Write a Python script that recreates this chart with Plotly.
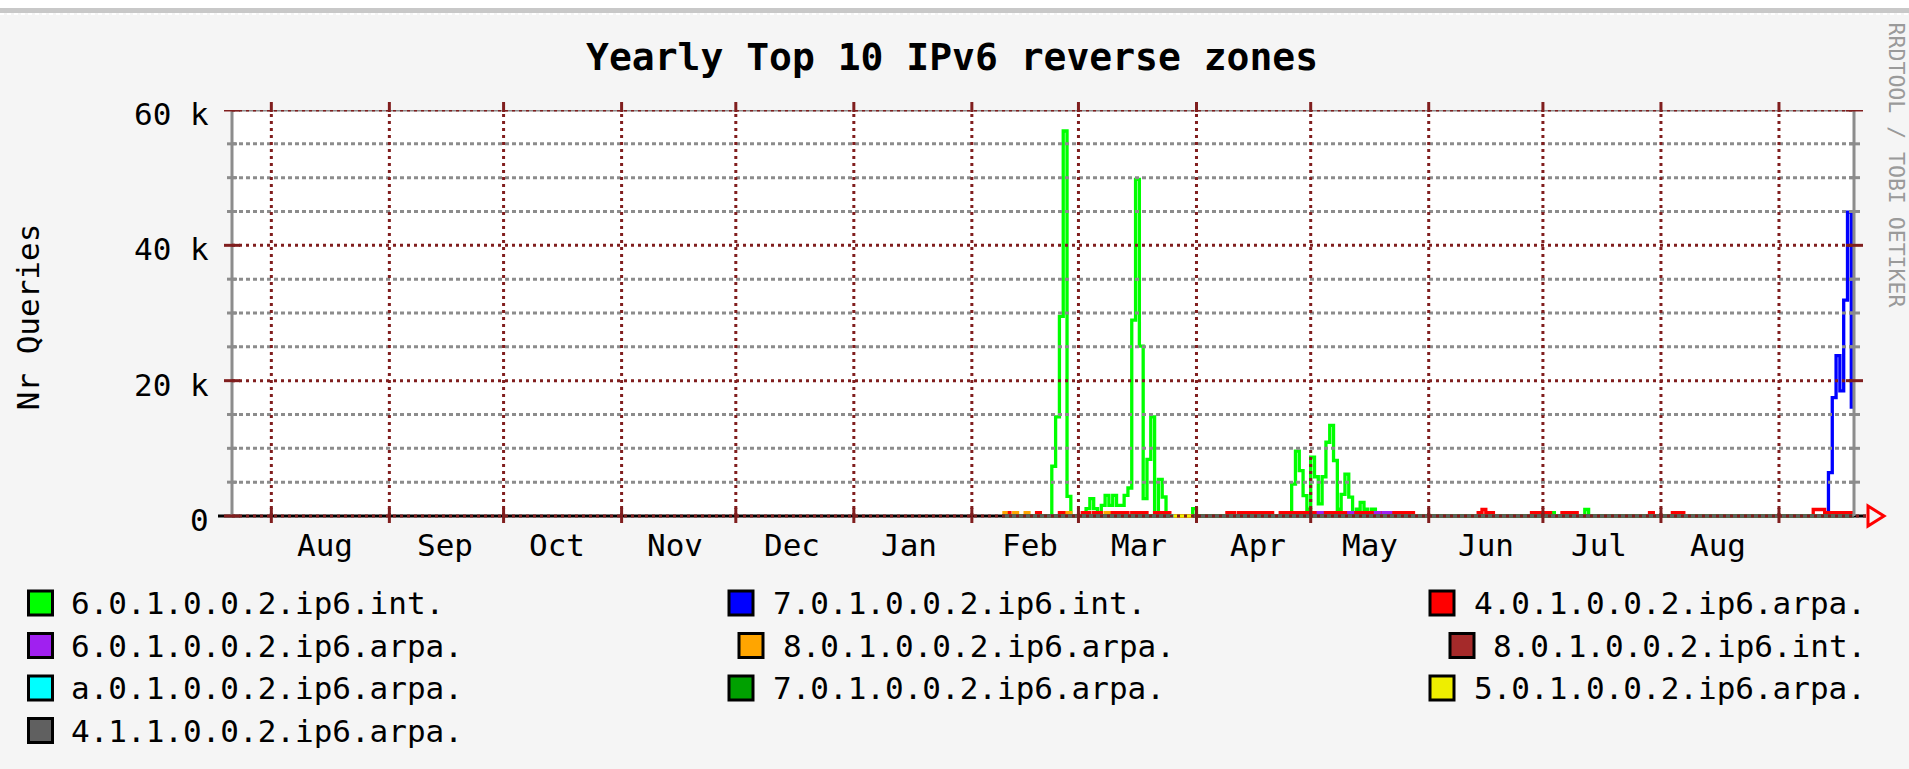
import plotly.graph_objects as go

# ---------------------------------------------------------------- data
X_START = "2004-07-21 16:00"
X_END = "2005-09-20 17:00"

MONTH_STARTS = ["2004-08-01", "2004-09-01", "2004-10-01", "2004-11-01", "2004-12-01",
                "2005-01-01", "2005-02-01", "2005-03-01", "2005-04-01", "2005-05-01",
                "2005-06-01", "2005-07-01", "2005-08-01", "2005-09-01"]
MONTH_LABEL_DATES = ["2004-08-15 00:00", "2004-09-15 17:00", "2004-10-15 00:00",
                     "2004-11-15 00:00", "2004-12-15 17:00", "2005-01-15 12:00",
                     "2005-02-16 05:00", "2005-03-16 19:00", "2005-04-17 05:00",
                     "2005-05-16 17:00", "2005-06-16 00:00", "2005-07-15 17:00",
                     "2005-08-15 22:00"]
MONTH_LABELS = ["Aug", "Sep", "Oct", "Nov", "Dec", "Jan", "Feb", "Mar", "Apr",
                "May", "Jun", "Jul", "Aug"]

Y_MAJOR = [0, 20000, 40000, 60000]
Y_MAJOR_TEXT = ["0", "20 k", "40 k", "60 k"]
Y_MINOR = [5000, 10000, 15000, 25000, 30000, 35000, 45000, 50000, 55000]
Y_MAX = 60000

TITLE = "Yearly Top 10 IPv6 reverse zones"
Y_TITLE = "Nr Queries"
WATERMARK = "RRDTOOL / TOBI OETIKER"

ZONE_NAMES = ["6.0.1.0.0.2.ip6.int.", "7.0.1.0.0.2.ip6.int.", "4.0.1.0.0.2.ip6.arpa.",
              "6.0.1.0.0.2.ip6.arpa.", "8.0.1.0.0.2.ip6.arpa.", "8.0.1.0.0.2.ip6.int.",
              "a.0.1.0.0.2.ip6.arpa.", "7.0.1.0.0.2.ip6.arpa.", "5.0.1.0.0.2.ip6.arpa.",
              "4.1.1.0.0.2.ip6.arpa."]
ZONE_COLORS = ["#00FF00", "#0000FF", "#FF0000", "#A020F0", "#FFA500", "#A52A2A",
               "#00FFFF", "#00A000", "#EEEE00", "#606060"]

GREEN_DATES = ["2005-02-09",
               "2005-02-22", "2005-02-23", "2005-02-24", "2005-02-25", "2005-02-26", "2005-02-27",
               "2005-03-03", "2005-03-04", "2005-03-05", "2005-03-06", "2005-03-07", "2005-03-08",
               "2005-03-09", "2005-03-10", "2005-03-11", "2005-03-13", "2005-03-14", "2005-03-15",
               "2005-03-16", "2005-03-17", "2005-03-18", "2005-03-19", "2005-03-20", "2005-03-21",
               "2005-03-22", "2005-03-23", "2005-03-24",
               "2005-03-31", "2005-04-01",
               "2005-04-26", "2005-04-27", "2005-04-28", "2005-04-29", "2005-04-30", "2005-05-01",
               "2005-05-02", "2005-05-03", "2005-05-04", "2005-05-05", "2005-05-06", "2005-05-07",
               "2005-05-08", "2005-05-09", "2005-05-10", "2005-05-11", "2005-05-12", "2005-05-13",
               "2005-05-14", "2005-05-15", "2005-05-16", "2005-05-17", "2005-05-18",
               "2005-07-03", "2005-07-04", "2005-07-12", "2005-07-13",
               X_END]
GREEN_VALUES = [0,
                7350, 14650, 29500, 56900, 2900, 0,
                1085, 2560, 1085, 0, 1580, 3060,
                1580, 3060, 1580, 3060, 4140, 28940,
                49750, 25100, 2560, 8380, 14640, 0,
                5420, 2810, 0,
                1085, 0,
                4700, 9600, 6700, 3000, 1000, 8700,
                5800, 1800, 5800, 10900, 13400, 8200,
                1000, 3200, 6200, 2800, 0, 1000,
                2000, 1000, 0, 1000, 0,
                480, 0, 960, 0,
                0]

BLUE_DATES = ["2005-02-09", "2005-09-14", "2005-09-15", "2005-09-16", "2005-09-17",
              "2005-09-18", "2005-09-19", "2005-09-20", X_END]
BLUE_VALUES = [0, 6400, 17500, 23700, 18500, 31900, 44900, 16100, 16100]

RED_DATES = ["2005-02-09", "2005-02-10", "2005-02-11", "2005-02-18", "2005-02-19",
             "2005-02-24", "2005-02-26", "2005-03-02", "2005-03-04", "2005-03-05",
             "2005-03-07", "2005-03-09", "2005-03-14", "2005-03-15", "2005-03-19",
             "2005-03-21", "2005-03-25", "2005-04-09", "2005-04-11", "2005-04-12",
             "2005-04-21", "2005-04-23", "2005-05-28", "2005-06-14", "2005-06-15",
             "2005-06-16", "2005-06-18", "2005-06-28", "2005-07-03", "2005-07-06",
             "2005-07-10", "2005-07-29", "2005-07-30", "2005-08-04", "2005-08-07",
             "2005-09-10", "2005-09-13", X_END]
RED_VALUES = [0, 480, 0, 480, 0,
              480, 0, 480, 0, 480,
              0, 480, 0, 480, 0,
              480, 0, 480, 0, 480,
              0, 480, 0, 480, 960,
              480, 0, 480, 0, 480,
              0, 480, 0, 480, 0,
              960, 480, 480]

PURPLE_DATES = ["2005-02-09", "2005-05-03", "2005-05-04", "2005-05-11", "2005-05-12",
                "2005-05-18", "2005-05-19", "2005-05-20", "2005-05-22", X_END]
PURPLE_VALUES = [0, 480, 0, 480, 0, 480, 0, 480, 0, 0]

ORANGE_DATES = ["2005-02-09", "2005-02-10", "2005-02-12", "2005-02-13", "2005-02-15",
                "2005-02-16", "2005-02-26", "2005-02-27", "2005-03-08", "2005-03-09", X_END]
ORANGE_VALUES = [480, 0, 480, 0, 480, 0, 480, 0, 480, 0, 0]

BROWN_DATES = ["2005-02-09", X_END]
BROWN_VALUES = [0, 0]

CYAN_DATES = ["2005-03-25", "2005-03-26"]
CYAN_VALUES = [0, 0]

DARKGREEN_DATES = ["2005-02-09", "2005-03-25", "2005-03-25", "2005-03-31", X_END]
DARKGREEN_VALUES = [0, 0, None, 0, 0]

YELLOW_DATES = ["2005-03-26", "2005-03-31"]
YELLOW_VALUES = [0, 0]

GRAY_DATES = ["2005-02-09", "2005-03-25", "2005-03-25", "2005-03-31", X_END]
GRAY_VALUES = [0, 0, None, 0, 0]

SERIES = [(GREEN_DATES, GREEN_VALUES), (BLUE_DATES, BLUE_VALUES), (RED_DATES, RED_VALUES),
          (PURPLE_DATES, PURPLE_VALUES), (ORANGE_DATES, ORANGE_VALUES),
          (BROWN_DATES, BROWN_VALUES), (CYAN_DATES, CYAN_VALUES),
          (DARKGREEN_DATES, DARKGREEN_VALUES), (YELLOW_DATES, YELLOW_VALUES),
          (GRAY_DATES, GRAY_VALUES)]

# ---------------------------------------------------------------- geometry / style
W, H = 1909, 769
PL, PR, PT, PB = 232, 1854, 110, 519          # plot rectangle in page pixels
ZERO_PX = 516                                  # page row of the value 0
Y_LOW = -(PB - ZERO_PX) * Y_MAX / (ZERO_PX - PT)

FONT = "DejaVu Sans Mono"
BG = "#F5F5F5"
GRID_GRAY = "#8C8C8C"
GRID_RED = "#801E1E"
AXIS_GRAY = "#8C8C8C"


def px_x(x):
    return (x - PL) / (PR - PL)


def px_y(y):
    return (PB - y) / (PB - PT)


fig = go.Figure()

for (dates, values), color in zip(SERIES, ZONE_COLORS):
    fig.add_trace(go.Scatter(x=dates, y=values, mode="lines",
                             line=dict(color=color, width=3.3, shape="hv"),
                             connectgaps=False, hoverinfo="skip", showlegend=False))

shapes = []


def add_line(x0, y0, x1, y1, color, width, dash="solid", xref="paper", yref="paper",
             layer="above"):
    shapes.append(dict(type="line", x0=x0, y0=y0, x1=x1, y1=y1, xref=xref, yref=yref,
                       line=dict(color=color, width=width, dash=dash), layer=layer))


# white canvas of the graph and the black x axis below the data
shapes.append(dict(type="rect", xref="paper", yref="y", x0=0, x1=1, y0=0, y1=Y_MAX,
                   fillcolor="white", line=dict(width=0), layer="below"))
add_line(px_x(218), 0, px_x(1866), 0, "black", 3, yref="y", layer="below")

# top band of the page
shapes.append(dict(type="rect", xref="paper", yref="paper", x0=px_x(0), x1=px_x(W),
                   y0=px_y(0), y1=px_y(8), fillcolor="white", line=dict(width=0),
                   layer="above"))
shapes.append(dict(type="rect", xref="paper", yref="paper", x0=px_x(0), x1=px_x(W),
                   y0=px_y(8), y1=px_y(13), fillcolor="#C8C8C8", line=dict(width=0),
                   layer="above"))
add_line(px_x(0), px_y(14), px_x(W), px_y(14), "white", 2, dash="4px,3px")

# axes (gray)
add_line(0, 0, 0, Y_MAX, AXIS_GRAY, 3, yref="y")
add_line(1, 0, 1, Y_MAX, AXIS_GRAY, 3, yref="y")

# minor horizontal grid
for v in Y_MINOR:
    add_line(0, v, 1, v, GRID_GRAY, 3, dash="4px,3px", yref="y")
    add_line(px_x(227), v, px_x(237), v, GRID_GRAY, 3, yref="y")
    add_line(px_x(1849), v, px_x(1860), v, GRID_GRAY, 3, yref="y")

# top line also carries gray
add_line(0, Y_MAX, 1, Y_MAX, GRID_GRAY, 3, yref="y")

# vertical month grid
for d in MONTH_STARTS:
    add_line(d, 0, d, Y_MAX, GRID_RED, 3, dash="3px,4px", xref="x", yref="y")
    add_line(d, px_y(102), d, px_y(112), GRID_RED, 3, xref="x")
    add_line(d, px_y(508), d, px_y(523), GRID_RED, 3, xref="x")

# major horizontal grid
for v in Y_MAJOR:
    x_end = px_x(1866) if v == 0 else 1
    add_line(0, v, x_end, v, GRID_RED, 3, dash="3px,4px", yref="y")
    add_line(px_x(224), v, px_x(240), v, GRID_RED, 3, yref="y")
    if v != 0:
        add_line(px_x(1846), v, px_x(1863), v, GRID_RED, 3, yref="y")

# arrow at the end of the x axis
shapes.append(dict(type="path", xref="paper", yref="paper",
                   path="M {a},{b} L {a},{c} L {d},{e} Z".format(
                       a=px_x(1868), b=px_y(506), c=px_y(526), d=px_x(1884), e=px_y(516)),
                   line=dict(color="#FF0000", width=3), fillcolor="rgba(0,0,0,0)",
                   layer="above"))

# legend swatches
LEG_ROWS = [603, 645.5, 688, 730.5]
LEG_POS = [  # (swatch centre x, text x) per column, normal and shifted rows
    [(40.5, 70), (741, 772), (1442, 1473)],
    [(40.5, 70), (751, 782), (1462, 1492)],
    [(40.5, 70), (741, 772), (1442, 1473)],
    [(40.5, 70)],
]
annotations = []
k = 0
for r, row in enumerate(LEG_POS):
    for (cx, tx) in row:
        cy = LEG_ROWS[r]
        shapes.append(dict(type="rect", xref="paper", yref="paper",
                           x0=px_x(cx - 12), x1=px_x(cx + 12),
                           y0=px_y(cy - 12), y1=px_y(cy + 12),
                           fillcolor=ZONE_COLORS[k], line=dict(color="black", width=3),
                           layer="above"))
        annotations.append(dict(x=px_x(tx), y=px_y(cy), xref="paper", yref="paper",
                                text=ZONE_NAMES[k], showarrow=False, xanchor="left",
                                yanchor="middle", borderpad=0,
                                font=dict(family=FONT, size=31, color="black")))
        k += 1

# title, axis title, watermark
annotations.append(dict(x=px_x(952), y=px_y(57), xref="paper", yref="paper", text=TITLE,
                        showarrow=False, xanchor="center", yanchor="middle",
                        font=dict(family=FONT, size=38, color="black", weight="bold")))
annotations.append(dict(x=px_x(28.3), y=px_y(317), xref="paper", yref="paper",
                        text=Y_TITLE, textangle=-90, showarrow=False, xanchor="center",
                        yanchor="middle", font=dict(family=FONT, size=31, color="black")))
annotations.append(dict(x=px_x(1897.4), y=px_y(165), xref="paper", yref="paper",
                        text=WATERMARK, textangle=90, showarrow=False, xanchor="center",
                        yanchor="middle", font=dict(family=FONT, size=21.5, color="#9A9A9A")))

# y tick labels
for v, t in zip(Y_MAJOR, Y_MAJOR_TEXT):
    annotations.append(dict(x=px_x(209.5), y=v, xref="paper", yref="y", text=t,
                            showarrow=False, xanchor="right", yanchor="middle", yshift=-4,
                            borderpad=0, font=dict(family=FONT, size=31, color="black")))

# x (month) labels
for d, t in zip(MONTH_LABEL_DATES, MONTH_LABELS):
    annotations.append(dict(x=d, y=px_y(545), xref="x", yref="paper", text=t,
                            showarrow=False, xanchor="center", yanchor="middle",
                            borderpad=0, font=dict(family=FONT, size=31, color="black")))

fig.update_layout(
    width=W, height=H, autosize=False,
    margin=dict(l=PL, r=W - PR, t=PT, b=H - PB, pad=0),
    paper_bgcolor=BG, plot_bgcolor=BG,
    xaxis=dict(type="date", range=[X_START, X_END], showgrid=False, zeroline=False,
               showticklabels=False, ticks="", showline=False, fixedrange=True),
    yaxis=dict(range=[Y_LOW, Y_MAX], showgrid=False, zeroline=False,
               showticklabels=False, ticks="", showline=False, fixedrange=True),
    shapes=shapes, annotations=annotations, showlegend=False,
)

fig.write_html("out.html", config={"displayModeBar": False},
               post_script="document.body.style.margin='0';document.body.style.overflow='hidden';")
